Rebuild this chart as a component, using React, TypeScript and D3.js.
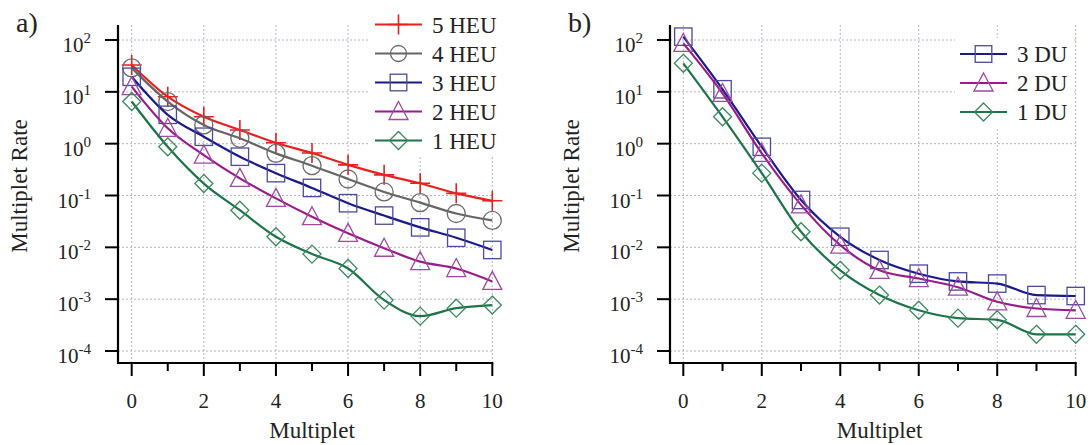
import React from "react";
import * as d3 from "d3";

const multiplets = [0, 1, 2, 3, 4, 5, 6, 7, 8, 9, 10];

const heu5 = [33, 8.05, 3.3, 1.84, 1.04, 0.66, 0.39, 0.25, 0.172, 0.11, 0.079];
const heu4 = [29, 6.5, 2.3, 1.27, 0.65, 0.376, 0.208, 0.117, 0.073, 0.045, 0.033];
const heu3 = [19.5, 3.6, 1.36, 0.56, 0.27, 0.14, 0.071, 0.041, 0.0243, 0.0153, 0.0089];
const heu2 = [12.6, 1.98, 0.6, 0.214, 0.088, 0.039, 0.0186, 0.0096, 0.0053, 0.0039, 0.0022];
const heu1 = [6.5, 0.87, 0.17, 0.052, 0.016, 0.0074, 0.0039, 0.00096, 0.00047, 0.00067, 0.00077];

const du3 = [116, 11.2, 0.87, 0.082, 0.016, 0.0057, 0.0031, 0.0022, 0.002, 0.0012, 0.00115];
const du2 = [86, 9.3, 0.65, 0.066, 0.011, 0.0036, 0.0025, 0.0017, 0.00089, 0.00066, 0.00061];
const du1 = [35.5, 3.3, 0.27, 0.02, 0.0036, 0.0012, 0.00061, 0.00043, 0.0004, 0.00021, 0.00021];

const heuLabels = ["5 HEU", "4 HEU", "3 HEU", "2 HEU", "1 HEU"];
const duLabels = ["3 DU", "2 DU", "1 DU"];

const yTickValues = [1e2, 1e1, 1e0, 1e-1, 1e-2, 1e-3, 1e-4];
const yTickExponents = ["2", "1", "0", "-1", "-2", "-3", "-4"];
const xMajorTicks = [0, 2, 4, 6, 8, 10];
const xMinorTicks = [1, 3, 5, 7, 9];

const FONT = '"Liberation Serif","Times New Roman",Times,serif';
const GRID = "#b4b4cc";

type MarkerKind = "plus" | "circle" | "square" | "triangle" | "diamond";

interface Series {
  label: string;
  values: number[];
  line: string;
  marker: string;
  kind: MarkerKind;
}

const heuSeries: Series[] = [
  { label: heuLabels[0], values: heu5, line: "#e8201e", marker: "#e8201e", kind: "plus" },
  { label: heuLabels[1], values: heu4, line: "#666666", marker: "#6a6a6a", kind: "circle" },
  { label: heuLabels[2], values: heu3, line: "#1a1a8a", marker: "#4a4a9e", kind: "square" },
  { label: heuLabels[3], values: heu2, line: "#9a1c8a", marker: "#a04aa2", kind: "triangle" },
  { label: heuLabels[4], values: heu1, line: "#1c7448", marker: "#3a8a5c", kind: "diamond" },
];

const duSeries: Series[] = [
  { label: duLabels[0], values: du3, line: "#1a1a8a", marker: "#4a4a9e", kind: "square" },
  { label: duLabels[1], values: du2, line: "#9a1c8a", marker: "#a04aa2", kind: "triangle" },
  { label: duLabels[2], values: du1, line: "#1c7448", marker: "#3a8a5c", kind: "diamond" },
];

function Marker({ kind, x, y, color, small }: { kind: MarkerKind; x: number; y: number; color: string; small?: boolean }) {
  const sw = 1.3;
  const common = { fill: "none", stroke: color, strokeWidth: sw };
  switch (kind) {
    case "plus":
      return <path d={`M${x - 10},${y}H${x + 10}M${x},${y - 10}V${y + 10}`} stroke={color} strokeWidth={1.6} fill="none" />;
    case "circle":
      return <circle cx={x} cy={y} r={small ? 8 : 9} {...common} />;
    case "square": {
      const s = small ? 8.3 : 8.7;
      return <rect x={x - s} y={y - s} width={2 * s} height={2 * s} {...common} />;
    }
    case "triangle":
      return <path d={`M${x},${y - 10}L${x + 9.5},${y + 8}L${x - 9.5},${y + 8}Z`} {...common} />;
    case "diamond":
      return <path d={`M${x},${y - 9}L${x + 9},${y}L${x},${y + 9}L${x - 9},${y}Z`} {...common} />;
  }
  return null;
}

interface PanelProps {
  tag: string;
  axisX: number;
  xRange: [number, number];
  series: Series[];
  legend: { bx: number; by: number; bw: number; bh: number; lx1: number; lx2: number; tx: number; y0: number; step: number };
}

function Panel({ tag, axisX, xRange, series, legend }: PanelProps) {
  const x = d3.scaleLinear().domain([0, 10]).range(xRange);
  const y = d3.scaleLog().domain([1e-4, 1e2]).range([351, 40]);
  const top = 25;
  const bottom = 363;
  const line = d3
    .line<number>()
    .x((_, i) => x(multiplets[i]))
    .y((d) => y(d))
    .curve(d3.curveMonotoneX);

  return (
    <g>
      {/* grid */}
      {xMajorTicks.map((t) => (
        <line key={"vg" + t} x1={x(t)} x2={x(t)} y1={top} y2={bottom} stroke={GRID} strokeWidth={1} strokeDasharray="2,2" />
      ))}
      {yTickValues.map((t) => (
        <line key={"hg" + t} x1={axisX} x2={x(10)} y1={y(t)} y2={y(t)} stroke={GRID} strokeWidth={1} strokeDasharray="2,2" />
      ))}
      {/* legend box background */}
      <rect x={legend.bx} y={legend.by} width={legend.bw} height={legend.bh} fill="#ffffff" />
      {/* axes */}
      <line x1={axisX} x2={axisX} y1={top} y2={bottom + 1} stroke="#000" strokeWidth={2.2} />
      <line x1={axisX - 1} x2={x(10) + 1} y1={bottom} y2={bottom} stroke="#000" strokeWidth={2.2} />
      {xMajorTicks.map((t) => (
        <g key={"xt" + t}>
          <line x1={x(t)} x2={x(t)} y1={bottom} y2={bottom + 13} stroke="#000" strokeWidth={2} />
          <text x={x(t)} y={408} textAnchor="middle" fontFamily={FONT} fontSize={21} fill="#222">
            {t}
          </text>
        </g>
      ))}
      {xMinorTicks.map((t) => (
        <line key={"xm" + t} x1={x(t)} x2={x(t)} y1={bottom} y2={bottom + 8} stroke="#000" strokeWidth={2} />
      ))}
      {yTickValues.map((t, i) => (
        <g key={"yt" + t}>
          <line x1={axisX - 13} x2={axisX} y1={y(t)} y2={y(t)} stroke="#000" strokeWidth={2} />
          <text x={axisX - 27} y={y(t) + 12} textAnchor="end" fontFamily={FONT} fontSize={21} fill="#222">
            <tspan>10</tspan>
            <tspan dy={-9} fontSize={15}>
              {yTickExponents[i]}
            </tspan>
          </text>
        </g>
      ))}
      {/* titles */}
      <text x={x(5)} y={438} textAnchor="middle" fontFamily={FONT} fontSize={23} fill="#222">
        Multiplet
      </text>
      <text transform={`translate(${axisX - 91},186) rotate(-90)`} textAnchor="middle" fontFamily={FONT} fontSize={23} fill="#222">
        Multiplet Rate
      </text>
      <text x={axisX - 102} y={32} fontFamily={FONT} fontSize={28} fill="#222">
        {tag}
      </text>
      {/* series */}
      {series.map((s) => (
        <g key={s.label}>
          <path d={line(s.values) || ""} fill="none" stroke={s.line} strokeWidth={2.2} />
          {s.values.map((v, i) => (
            <Marker key={i} kind={s.kind} x={x(multiplets[i])} y={y(v)} color={s.marker} />
          ))}
        </g>
      ))}
      {/* legend */}
      {series.map((s, i) => {
        const cy = legend.y0 + i * legend.step;
        return (
          <g key={"lg" + s.label}>
            <line x1={legend.lx1} x2={legend.lx2} y1={cy} y2={cy} stroke={s.line} strokeWidth={2.2} />
            <Marker kind={s.kind} x={(legend.lx1 + legend.lx2) / 2} y={cy} color={s.marker} small />
            <text x={legend.tx} y={cy + 8} fontFamily={FONT} fontSize={23} fill="#222">
              {s.label}
            </text>
          </g>
        );
      })}
    </g>
  );
}

export default function App() {
  return (
    <svg width={1091} height={445} style={{ position: "absolute", left: 0, top: 0, background: "#fff" }}>
      <rect width={1091} height={445} fill="#fff" />
      <Panel
        tag="a)"
        axisX={118}
        xRange={[131.7, 492.3]}
        series={heuSeries}
        legend={{ bx: 368, by: 6, bw: 132, bh: 150, lx1: 375, lx2: 422, tx: 432, y0: 24.5, step: 29 }}
      />
      <Panel
        tag="b)"
        axisX={670}
        xRange={[683.3, 1075.7]}
        series={duSeries}
        legend={{ bx: 955, by: 38, bw: 117, bh: 90, lx1: 960, lx2: 1007, tx: 1017, y0: 54, step: 29 }}
      />
    </svg>
  );
}
